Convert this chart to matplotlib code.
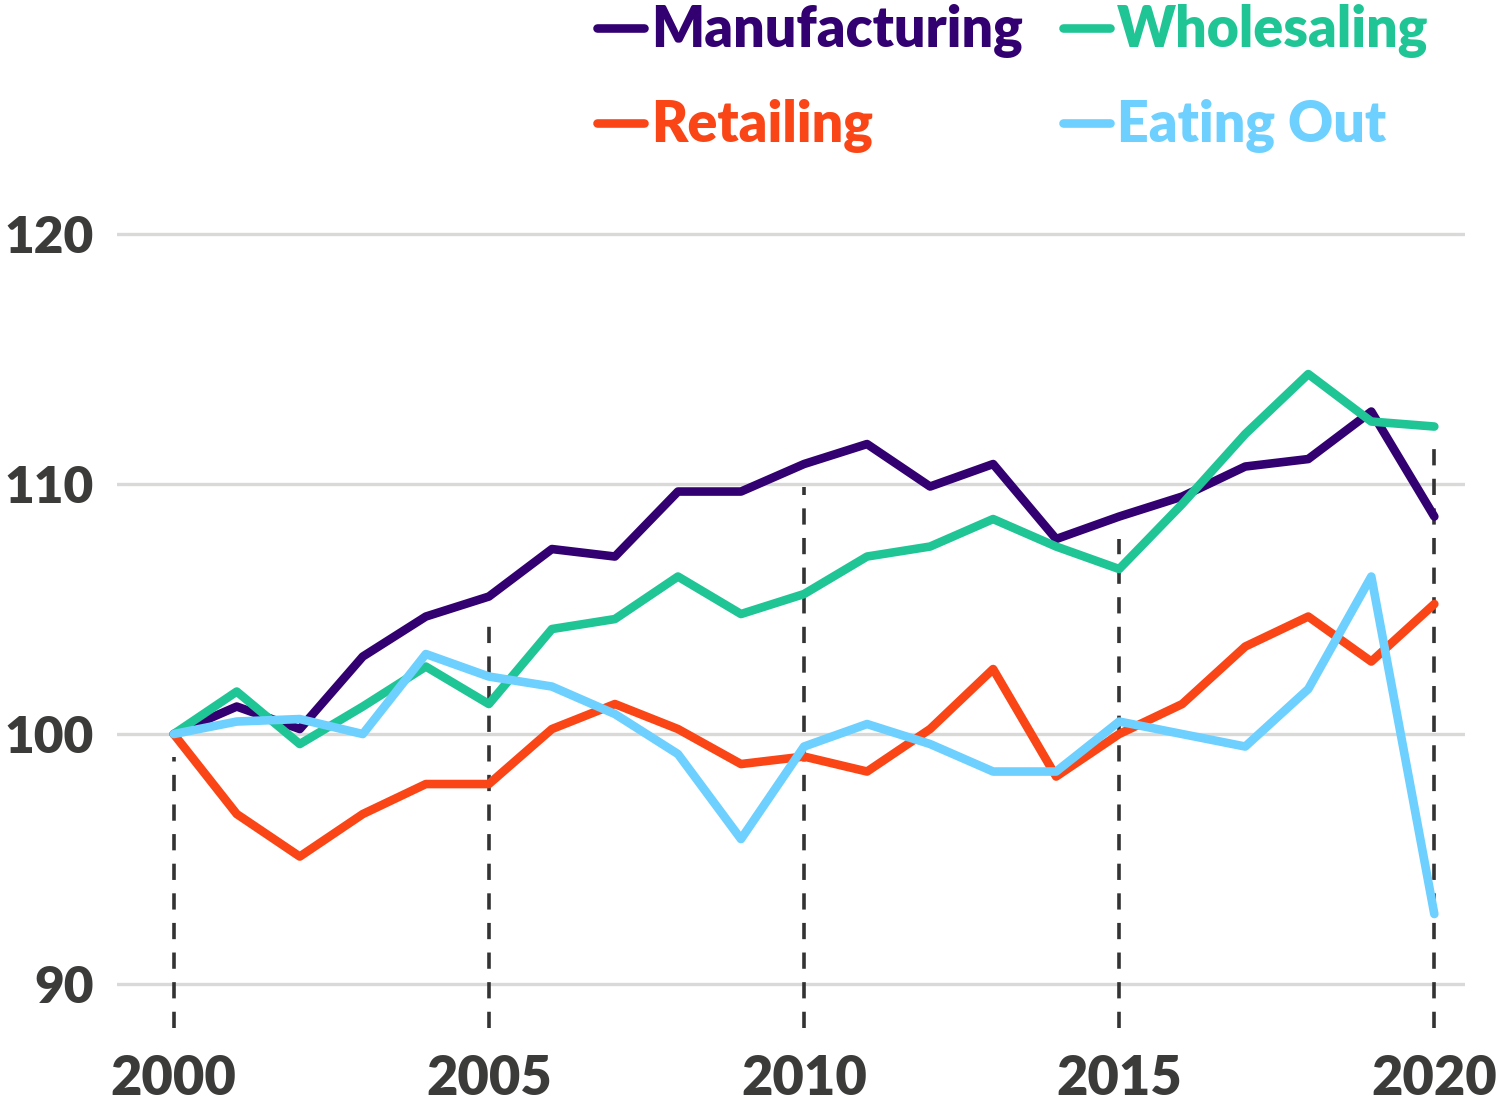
import matplotlib
matplotlib.use("Agg")
import matplotlib.pyplot as plt
import numpy as np

years = list(range(2000, 2021))
manufacturing = [100.0, 101.1, 100.2, 103.1, 104.7, 105.5, 107.4, 107.1, 109.7, 109.7, 110.8,
                 111.6, 109.9, 110.8, 107.8, 108.7, 109.5, 110.7, 111.0, 112.9, 108.7]
wholesaling = [100.0, 101.7, 99.6, 101.1, 102.7, 101.2, 104.2, 104.6, 106.3, 104.8, 105.6,
               107.1, 107.5, 108.6, 107.5, 106.6, 109.2, 112.0, 114.4, 112.5, 112.3]
retailing = [100.0, 96.8, 95.1, 96.8, 98.0, 98.0, 100.2, 101.2, 100.2, 98.8, 99.1,
             98.5, 100.2, 102.6, 98.3, 100.0, 101.2, 103.5, 104.7, 102.9, 105.2]
eating_out = [100.0, 100.5, 100.6, 100.0, 103.2, 102.3, 101.9, 100.8, 99.2, 95.8, 99.5,
              100.4, 99.6, 98.5, 98.5, 100.5, 100.0, 99.5, 101.8, 106.3, 92.8]

series_names = ["Manufacturing", "Wholesaling", "Retailing", "Eating Out"]
colors = ["#330072", "#20C596", "#FA4616", "#6DD0FF"]
x_ticks = [2000, 2005, 2010, 2015, 2020]
y_ticks = [90, 100, 110, 120]

FONT = "Lato"
TEXT_DARK = "#3b3b3a"

fig = plt.figure(figsize=(14.96, 11.04), dpi=100)
ax = fig.add_axes([0.0782, 0.0688, 0.9008, 0.7645])

ymin, ymax = 88.24, 122.0
ax.set_xlim(1999.1, 2020.48)
ax.set_ylim(ymin, ymax)

for yv in y_ticks:
    ax.axhline(yv, color="#d9dad8", lw=2.4, zorder=1)

all_series = [manufacturing, wholesaling, retailing, eating_out]
for xt in x_ticks:
    i = years.index(xt)
    top = max(s[i] for s in all_series) - 0.9
    ax.vlines(xt, ymin, top, colors="#333333", linestyles=(0, (4.5, 3.7)), lw=2.6, zorder=2)

lines = {}
for name, data, c in zip(series_names, all_series, colors):
    ln, = ax.plot(years, data, color=c, lw=6.2, solid_capstyle="round",
                  solid_joinstyle="round", zorder=3, label=name)
    lines[name] = ln

for s in ax.spines.values():
    s.set_visible(False)

ax.set_xticks(x_ticks)
ax.set_xticklabels([str(v) for v in x_ticks])
ax.set_yticks(y_ticks)
ax.set_yticklabels([str(v) for v in y_ticks])
ax.tick_params(axis="both", length=0)
ax.tick_params(axis="y", pad=17)
ax.tick_params(axis="x", pad=19)
for lab in ax.get_xticklabels():
    lab.set_fontfamily(FONT)
    lab.set_fontweight("heavy")
    lab.set_fontsize(39)
    lab.set_color(TEXT_DARK)
for lab in ax.get_yticklabels():
    lab.set_fontfamily(FONT)
    lab.set_fontweight("heavy")
    lab.set_fontsize(37)
    lab.set_color(TEXT_DARK)

order = ["Manufacturing", "Retailing", "Wholesaling", "Eating Out"]
leg = ax.legend([lines[n] for n in order], order, ncol=2, frameon=False,
                loc="upper left", bbox_to_anchor=(597 / 1496, 1 - 4 / 1104),
                bbox_transform=fig.transFigure,
                prop={"family": FONT, "weight": "heavy", "size": 40},
                labelcolor="linecolor", handlelength=0.85, handletextpad=0.12,
                columnspacing=0.72, labelspacing=0.74, borderpad=0.0, borderaxespad=0.0)

fig.savefig("out.png", dpi=100, facecolor="white")
